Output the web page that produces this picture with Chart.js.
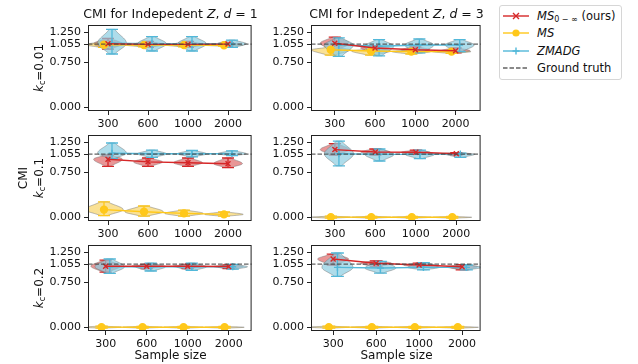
<!DOCTYPE html>
<html>
<head>
<meta charset="utf-8">
<script src="https://cdn.jsdelivr.net/npm/chart.js@4.4.0/dist/chart.umd.min.js"></script>
<style>
  body { margin: 0; background: #fff; }
  #fig { position: relative; width: 638px; height: 364px; overflow: hidden; font-family: "DejaVu Sans", sans-serif; color: #111; }
  #fig canvas { position: absolute; }
  .txt { position: absolute; white-space: nowrap; line-height: 1; }
  .center { transform: translateX(-50%); }
  .rot { transform: translate(-50%, -50%) rotate(-90deg); }
  #legend { position: absolute; left: 499px; top: 5px; width: 121px; height: 73px; border: 1px solid #d6d6d6; border-radius: 3px; background: #fff; font-size: 11.5px; }
  .lg-row { position: absolute; left: 3px; height: 14px; display: flex; align-items: center; }
  .lg-row span { margin-left: 8px; white-space: nowrap; }
  sub { font-size: 8px; vertical-align: -2px; font-style: normal; }
</style>
</head>
<body>
<div id="fig"><div id="legend"></div></div>
<script>
const sampleSizes = [300, 600, 1000, 2000];
const kcLevels = ['0.01', '0.1', '0.2'];
const dimLevels = [1, 3];
const yTickValues = [0, 0.75, 1.055, 1.25];
const groundTruth = 1.055;

// panels: (kc 0.01, d 1), (0.01, 3), (0.1, 1), (0.1, 3), (0.2, 1), (0.2, 3)
const oursMean = [
  [1.06, 1.05, 1.05, 1.055],
  [1.07, 0.99, 0.96, 0.945],
  [0.97, 0.925, 0.91, 0.895],
  [1.13, 1.09, 1.085, 1.06],
  [1.02, 1.02, 1.02, 1.015],
  [1.14, 1.07, 1.04, 1.01]
];
const oursLow = [
  [0.97, 1.0, 1.0, 1.03],
  [0.95, 0.93, 0.92, 0.91],
  [0.85, 0.85, 0.85, 0.83],
  [1.04, 1.04, 1.05, 1.04],
  [0.92, 0.98, 0.98, 0.98],
  [1.04, 1.01, 1.0, 0.96]
];
const oursHigh = [
  [1.15, 1.10, 1.10, 1.08],
  [1.17, 1.03, 1.01, 0.99],
  [1.04, 0.99, 0.99, 0.99],
  [1.23, 1.14, 1.12, 1.08],
  [1.12, 1.05, 1.05, 1.04],
  [1.22, 1.11, 1.07, 1.045]
];

const msMean = [
  [1.045, 1.04, 1.04, 1.035],
  [0.96, 0.94, 0.93, 0.93],
  [0.13, 0.095, 0.067, 0.05],
  [0.004, 0.003, 0.003, 0.002],
  [0.004, 0.003, 0.003, 0.002],
  [0.004, 0.003, 0.003, 0.002]
];
const msLow = [
  [1.0, 1.01, 1.01, 1.02],
  [0.87, 0.87, 0.89, 0.90],
  [0.03, 0.02, 0.02, 0.02],
  [-0.012, -0.012, -0.012, -0.012],
  [-0.012, -0.012, -0.012, -0.012],
  [-0.012, -0.012, -0.012, -0.012]
];
const msHigh = [
  [1.09, 1.07, 1.07, 1.05],
  [1.0, 0.97, 0.96, 0.95],
  [0.26, 0.19, 0.12, 0.09],
  [0.02, 0.018, 0.016, 0.015],
  [0.02, 0.018, 0.016, 0.015],
  [0.02, 0.018, 0.016, 0.015]
];

const zmMean = [
  [1.07, 1.06, 1.06, 1.06],
  [1.04, 1.02, 1.04, 1.04],
  [1.07, 1.06, 1.06, 1.06],
  [1.06, 1.05, 1.05, 1.055],
  [1.01, 1.01, 1.01, 1.01],
  [1.0, 0.99, 1.0, 1.0]
];
const zmLow = [
  [0.89, 0.94, 0.94, 1.0],
  [0.85, 0.86, 0.91, 0.93],
  [0.98, 1.0, 1.01, 1.03],
  [0.86, 0.94, 0.98, 1.0],
  [0.90, 0.94, 0.95, 0.97],
  [0.85, 0.905, 0.96, 0.96]
];
const zmHigh = [
  [1.30, 1.18, 1.18, 1.12],
  [1.16, 1.13, 1.14, 1.13],
  [1.24, 1.12, 1.115, 1.11],
  [1.27, 1.14, 1.12, 1.07],
  [1.14, 1.07, 1.07, 1.05],
  [1.24, 1.10, 1.08, 1.04]
];

const FONT = '"DejaVu Sans", sans-serif';

const series = [
  { key: 'ours', legend: '<i>MS</i><sub>0 − ∞</sub> (ours)', mean: oursMean, low: oursLow, high: oursHigh,
    color: '#d62728', fill: 'rgba(220,85,85,0.62)', shift: 0, half: 0.36, point: 'crossRot', radius: 3.5 },
  { key: 'ms', legend: '<i>MS</i>', mean: msMean, low: msLow, high: msHigh,
    color: '#ffc81a', fill: 'rgba(245,200,60,0.55)', shift: -0.1, half: 0.48, point: 'circle', radius: 3.5 },
  { key: 'zm', legend: '<i>ZMADG</i>', mean: zmMean, low: zmLow, high: zmHigh,
    color: '#52b8d9', fill: 'rgba(140,205,225,0.7)', shift: 0.1, half: 0.36, point: 'cross', radius: 3.5 }
];
// violins painted bottom to top
const violinOrder = [series[0], series[1], series[2]];

// plot boxes in page pixels plus the x range of each panel
const colBox = [{ left: 88, width: 165 }, { left: 311, width: 171 }];
const rowTop = [25, 135, 245];
const plotH = 86;
const xLimits = [[0.5, 4.59], [0.41, 4.62], [0.5, 4.59], [0.41, 4.6], [0.57, 4.56], [0.485, 4.43]];
const Y_AXIS_W = 62, X_AXIS_H = 24, PAD_TOP = 12, PAD_RIGHT = 4;

const violinPlugin = {
  id: 'violins',
  beforeDatasetsDraw(chart, args, opts) {
    const { ctx, chartArea: a, scales: { x, y } } = chart;
    const p = opts.panel;
    ctx.save();
    ctx.beginPath();
    ctx.rect(a.left, a.top, a.right - a.left, a.bottom - a.top);
    ctx.clip();
    for (const s of violinOrder) {
      for (let i = 0; i < sampleSizes.length; i++) {
        const cx = i + 1 + s.shift;
        const m = s.mean[p][i], lo = s.low[p][i], hi = s.high[p][i];
        const n = 40, rightSide = [], leftSide = [];
        for (let k = 0; k <= n; k++) {
          const v = lo + (hi - lo) * k / n;
          const sd = Math.max((v >= m ? hi - m : m - lo) / 1.8, 1e-6);
          const w = s.half * Math.exp(-0.5 * ((v - m) / sd) ** 2);
          rightSide.push([x.getPixelForValue(cx + w), y.getPixelForValue(v)]);
          leftSide.push([x.getPixelForValue(cx - w), y.getPixelForValue(v)]);
        }
        ctx.beginPath();
        rightSide.forEach(([px, py], k) => k ? ctx.lineTo(px, py) : ctx.moveTo(px, py));
        for (let k = leftSide.length - 1; k >= 0; k--) ctx.lineTo(leftSide[k][0], leftSide[k][1]);
        ctx.closePath();
        ctx.fillStyle = s.fill;
        ctx.fill();
        ctx.strokeStyle = 'rgba(120,120,120,0.5)';
        ctx.lineWidth = 1;
        ctx.stroke();

        // extrema bar with caps
        const px = x.getPixelForValue(cx);
        const capL = x.getPixelForValue(cx - 0.15), capR = x.getPixelForValue(cx + 0.15);
        const pLo = y.getPixelForValue(lo), pHi = y.getPixelForValue(hi);
        ctx.strokeStyle = s.color;
        ctx.lineWidth = 1.3;
        ctx.beginPath();
        ctx.moveTo(px, pLo); ctx.lineTo(px, pHi);
        ctx.moveTo(capL, pLo); ctx.lineTo(capR, pLo);
        ctx.moveTo(capL, pHi); ctx.lineTo(capR, pHi);
        ctx.stroke();
      }
    }
    ctx.restore();
  },
  afterDatasetsDraw(chart) {
    const { ctx, chartArea: a, scales: { y } } = chart;
    const gy = y.getPixelForValue(groundTruth);
    ctx.save();
    ctx.strokeStyle = 'rgba(70,70,70,0.85)';
    ctx.lineWidth = 1.3;
    ctx.setLineDash([4.5, 2]);
    ctx.beginPath();
    ctx.moveTo(a.left, gy);
    ctx.lineTo(a.right, gy);
    ctx.stroke();
    ctx.restore();
  },
  afterDraw(chart) {
    const { ctx, chartArea: a } = chart;
    ctx.save();
    ctx.strokeStyle = '#222';
    ctx.lineWidth = 1;
    ctx.strokeRect(a.left + 0.5, a.top + 0.5, a.right - a.left - 1, a.bottom - a.top - 1);
    ctx.restore();
  }
};

const fig = document.getElementById('fig');

function addText(html, left, top, size, cls) {
  const d = document.createElement('div');
  d.className = 'txt ' + (cls || '');
  d.style.left = left + 'px';
  d.style.top = top + 'px';
  d.style.fontSize = size + 'px';
  d.innerHTML = html;
  fig.appendChild(d);
  return d;
}

function makePanel(p) {
  const row = Math.floor(p / 2), col = p % 2;
  const box = colBox[col];
  const canvas = document.createElement('canvas');
  canvas.width = Y_AXIS_W + box.width + PAD_RIGHT;
  canvas.height = PAD_TOP + plotH + X_AXIS_H;
  canvas.style.left = (box.left - Y_AXIS_W) + 'px';
  canvas.style.top = (rowTop[row] - PAD_TOP) + 'px';
  fig.appendChild(canvas);

  const datasets = series.map(s => ({
    label: s.key,
    data: sampleSizes.map((_, i) => ({ x: i + 1 + s.shift, y: s.mean[p][i] })),
    borderColor: s.color,
    backgroundColor: s.color,
    borderWidth: 1.4,
    pointStyle: s.point,
    pointRadius: s.radius,
    pointBorderWidth: 1.4,
    pointBorderColor: s.color,
    pointBackgroundColor: s.color,
    tension: 0
  }));

  const tickFont = { family: FONT, size: 11 };
  new Chart(canvas, {
    type: 'line',
    data: { datasets },
    options: {
      responsive: false,
      animation: false,
      devicePixelRatio: 1,
      layout: { padding: { top: PAD_TOP, right: PAD_RIGHT, left: 0, bottom: 0 } },
      plugins: { legend: { display: false }, tooltip: { enabled: false }, violins: { panel: p } },
      scales: {
        x: {
          type: 'linear', min: xLimits[p][0], max: xLimits[p][1],
          afterBuildTicks: s => { s.ticks = sampleSizes.map((_, i) => ({ value: i + 1 })); },
          afterFit: s => { s.height = X_AXIS_H; },
          ticks: { callback: v => String(sampleSizes[v - 1]), font: tickFont, color: '#111', padding: 3, maxRotation: 0, autoSkip: false },
          grid: { drawOnChartArea: false, drawTicks: true, tickLength: 4, color: '#222' },
          border: { display: false }
        },
        y: {
          type: 'linear', min: -0.06, max: 1.373,
          afterBuildTicks: s => { s.ticks = yTickValues.map(v => ({ value: v })); },
          afterFit: s => { s.width = Y_AXIS_W; },
          ticks: { callback: v => v.toFixed(3), font: tickFont, color: '#111', padding: 3, autoSkip: false },
          grid: { drawOnChartArea: false, drawTicks: true, tickLength: 4, color: '#222' },
          border: { display: false }
        }
      }
    },
    plugins: [violinPlugin]
  });
}

for (let p = 0; p < 6; p++) makePanel(p);

// column titles
dimLevels.forEach((d, c) => {
  const cx = colBox[c].left + colBox[c].width / 2;
  addText('CMI for Indepedent <i>Z</i>, <i>d</i> = ' + d, cx, 8, 12.5, 'center');
  addText('Sample size', cx, 349, 12, 'center');
});

// row labels
kcLevels.forEach((kc, r) => {
  const cy = rowTop[r] + plotH / 2;
  addText('<i>k<sub>c</sub></i>=' + kc, 40, cy, 12, 'rot');
});
addText('CMI', 23, rowTop[1] + plotH / 2, 12, 'rot');

// legend
const legend = document.getElementById('legend');
const rowsY = [3, 20, 37.5, 55];
function legendIcon(s) {
  const c = s ? s.color : 'rgba(70,70,70,0.85)';
  let marker = '';
  if (s && s.point === 'crossRot') marker = `<path d="M10,3 L16,9 M16,3 L10,9" stroke="${c}" stroke-width="1.4"/>`;
  if (s && s.point === 'circle') marker = `<circle cx="13" cy="6" r="3.6" fill="${c}"/>`;
  if (s && s.point === 'cross') marker = `<path d="M13,2.5 L13,9.5 M9.5,6 L16.5,6" stroke="${c}" stroke-width="1.4"/>`;
  const dash = s ? '' : ' stroke-dasharray="4.5 2"';
  return `<svg width="26" height="12"><line x1="0" y1="6" x2="26" y2="6" stroke="${c}" stroke-width="1.4"${dash}/>${marker}</svg>`;
}
[...series, null].forEach((s, k) => {
  const r = document.createElement('div');
  r.className = 'lg-row';
  r.style.top = rowsY[k] + 'px';
  r.innerHTML = legendIcon(s) + '<span>' + (s ? s.legend : 'Ground truth') + '</span>';
  legend.appendChild(r);
});
</script>
</body>
</html>
